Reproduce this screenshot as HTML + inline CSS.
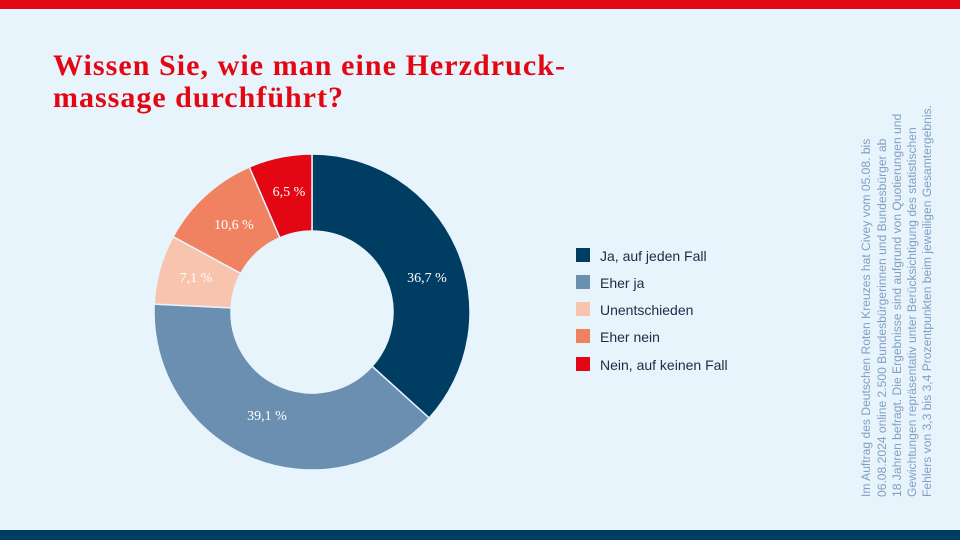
<!DOCTYPE html>
<html><head><meta charset="utf-8"><style>
html,body{margin:0;padding:0;width:960px;height:540px;overflow:hidden;background:#e8f4fc}
</style></head><body>
<svg width="960" height="540" xmlns="http://www.w3.org/2000/svg" style="position:absolute;left:0;top:0">
<rect x="0" y="0" width="960" height="540" fill="#e8f4fc"/>
<rect x="0" y="0" width="960" height="9" fill="#e30613"/>
<rect x="0" y="530" width="960" height="10" fill="#003d62"/>
<g font-family="Liberation Serif, serif" font-weight="bold" font-size="30" fill="#e30613">
<text x="53" y="75" textLength="512" lengthAdjust="spacing">Wissen Sie, wie man eine Herzdruck-</text>
<text x="53" y="107" textLength="290" lengthAdjust="spacing">massage durchführt?</text>
</g>
<g stroke="#e8f4fc" stroke-width="1.5">
<path d="M312,154 A158,158 0 0 1 429.2,418 L372.1,366.3 A81,81 0 0 0 312,231 Z" fill="#003d62"/>
<path d="M429.2,418 A158,158 0 0 1 154.2,304.1 L231.1,307.9 A81,81 0 0 0 372.1,366.3 Z" fill="#6b8fb0"/>
<path d="M154.2,304.1 A158,158 0 0 1 173.1,236.7 L240.8,273.4 A81,81 0 0 0 231.1,307.9 Z" fill="#f8c4ad"/>
<path d="M173.1,236.7 A158,158 0 0 1 249.3,167 L279.8,237.7 A81,81 0 0 0 240.8,273.4 Z" fill="#f08262"/>
<path d="M249.3,167 A158,158 0 0 1 312,154 L312,231 A81,81 0 0 0 279.8,237.7 Z" fill="#e30613"/>
</g>
<g font-family="Liberation Serif, serif" font-size="14" fill="#fff" text-anchor="middle">
<text x="427" y="282">36,7 %</text>
<text x="267" y="420">39,1 %</text>
<text x="196" y="282">7,1 %</text>
<text x="234" y="229">10,6 %</text>
<text x="289" y="196">6,5 %</text>
</g>
<g font-family="Liberation Sans, sans-serif" font-size="14" fill="#1d2b45">
<rect x="576" y="248" width="14" height="14" fill="#003d62"/><text x="600" y="261">Ja, auf jeden Fall</text>
<rect x="576" y="275" width="14" height="14" fill="#6b8fb0"/><text x="600" y="288">Eher ja</text>
<rect x="576" y="302" width="14" height="14" fill="#f8c4ad"/><text x="600" y="315">Unentschieden</text>
<rect x="576" y="329" width="14" height="14" fill="#f08262"/><text x="600" y="342">Eher nein</text>
<rect x="576" y="357" width="14" height="14" fill="#e30613"/><text x="600" y="370">Nein, auf keinen Fall</text>
</g>
<g font-family="Liberation Sans, sans-serif" font-size="12.1" fill="#7f9fc4">
<text transform="translate(870,497) rotate(-90)">Im Auftrag des Deutschen Roten Kreuzes hat Civey vom 05.08. bis</text>
<text transform="translate(886,497) rotate(-90)">06.08.2024 online 2.500 Bundesbürgerinnen und Bundesbürger ab</text>
<text transform="translate(901,497) rotate(-90)">18 Jahren befragt. Die Ergebnisse sind aufgrund von Quotierungen und</text>
<text transform="translate(916,497) rotate(-90)">Gewichtungen repräsentativ unter Berücksichtigung des statistischen</text>
<text transform="translate(931,497) rotate(-90)">Fehlers von 3,3 bis 3,4 Prozentpunkten beim jeweiligen Gesamtergebnis.</text>
</g>
</svg>
</body></html>
